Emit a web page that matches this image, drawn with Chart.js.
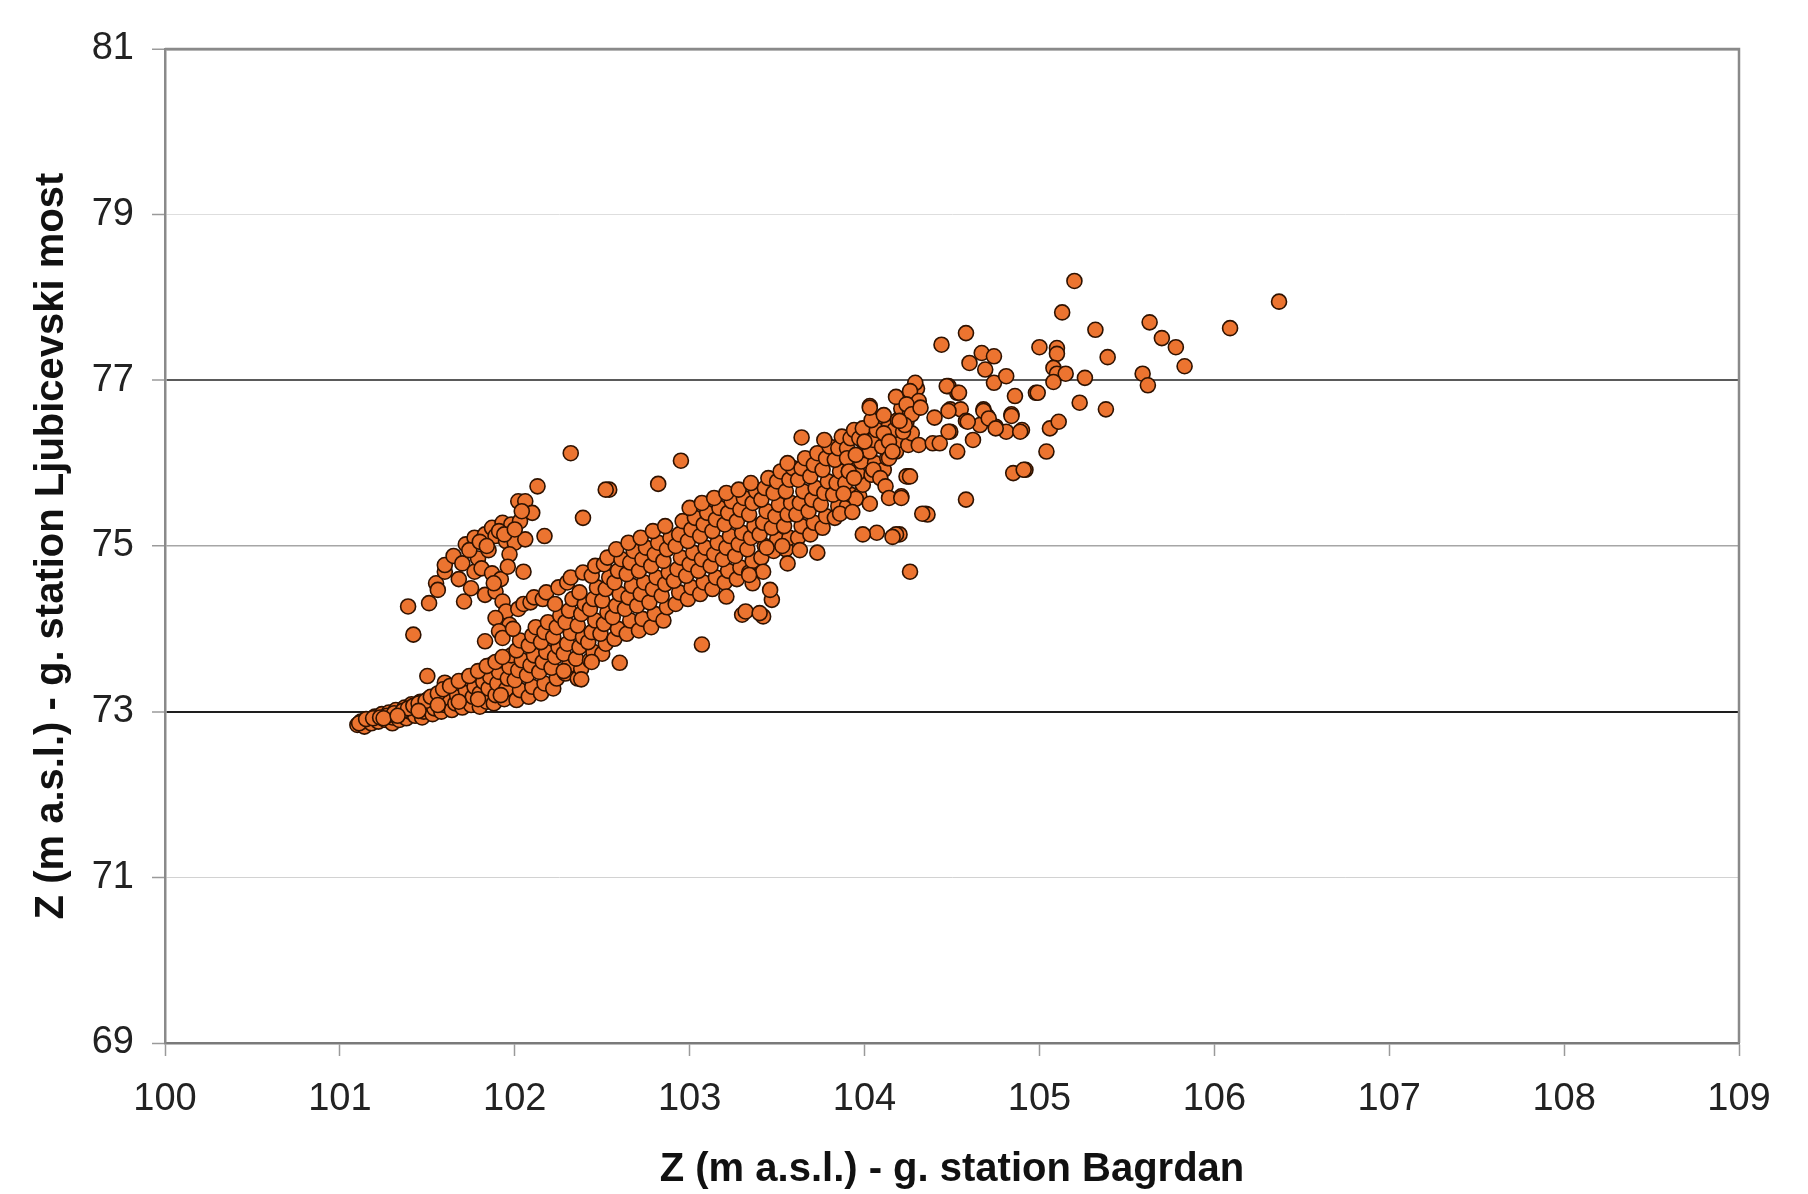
<!DOCTYPE html>
<html>
<head>
<meta charset="utf-8">
<script src="https://cdn.jsdelivr.net/npm/chart.js@4.4.0/dist/chart.umd.min.js"></script>
<style>
  html, body { margin: 0; padding: 0; background: #fff; }
  #wrap { width: 1808px; height: 1194px; }
</style>
</head>
<body>
<div id="wrap"><canvas id="myChart" width="1808" height="1194"></canvas></div>
<script>
// axis ticks
var xTicks = [100, 101, 102, 103, 104, 105, 106, 107, 108, 109];
var yTicks = [69, 71, 73, 75, 77, 79, 81];

// [Z Bagrdan, Z Ljubicevski most], grouped by region
var lowerTail = [
    [101.10,72.84],[101.12,72.88],[101.14,72.82],[101.16,72.90],[101.18,72.86],[101.20,72.94],[101.22,72.88],
    [101.24,72.97],[101.26,72.90],[101.28,72.99],[101.30,72.86],[101.30,72.93],[101.32,73.02],[101.34,72.90],
    [101.35,72.97],[101.37,73.05],[101.38,72.92],[101.40,73.00],[101.41,73.09],[101.43,72.95],[101.44,73.04],
    [101.46,73.12],[101.47,72.93],[101.48,73.00],[101.50,73.08],[101.51,73.16],[101.53,72.97],[101.54,73.04],
    [101.55,73.12],[101.57,73.20],[101.58,73.00],[101.60,73.08],[101.61,73.25],[101.62,73.16],[101.64,73.02],
    [101.65,73.30],[101.66,73.10],[101.67,73.20],[101.69,73.34],[101.70,73.05],[101.71,73.14],[101.72,73.26],
    [101.73,73.40],[101.75,73.08],[101.76,73.18],[101.77,73.30],[101.78,73.45],[101.80,73.06],[101.80,73.22],
    [101.82,73.36],[101.83,73.50],[101.84,73.12],[101.85,73.28],[101.86,73.42],[101.87,73.57],[101.88,73.10],
    [101.89,73.20],[101.90,73.34],[101.91,73.48],[101.92,73.62],[101.94,73.15],[101.95,73.27],[101.96,73.40],
    [101.97,73.54],[101.98,73.68],[101.50,73.43],[101.60,73.35],
    [101.11,72.86],[101.15,72.91],[101.19,72.92],[101.23,72.93],[101.27,72.95],[101.31,72.98],[101.36,73.01],
    [101.39,73.04],[101.42,73.07],[101.45,73.10],[101.49,73.13],[101.52,73.18],[101.56,73.22],[101.59,73.27],
    [101.63,73.31],[101.68,73.37],[101.74,73.43],[101.79,73.49],[101.84,73.55],[101.89,73.60],[101.93,73.66],
    [101.25,72.92],[101.33,72.95],[101.45,73.01],[101.56,73.08],[101.68,73.12],[101.79,73.15],[101.92,73.20]
];

var upperBranch = [
    [101.39,74.27],[101.42,73.93],[101.51,74.31],[101.55,74.55],[101.56,74.47],[101.60,74.69],[101.60,74.77],
    [101.65,74.88],[101.70,74.79],[101.71,74.33],[101.72,75.02],[101.75,74.49],[101.77,75.10],[101.77,74.69],
    [101.79,74.85],[101.81,74.73],[101.83,75.14],[101.83,74.41],[101.87,75.22],[101.87,74.67],[101.89,75.12],
    [101.89,74.45],[101.93,75.28],[101.93,74.33],[101.95,75.06],[101.98,75.26],[102.00,75.04],[102.02,75.54],
    [102.06,75.54],[102.06,75.08],[102.13,75.72],[102.17,75.12],[102.05,74.69],[101.68,74.60],[101.74,74.95],
    [101.80,75.05],[101.91,75.18],[102.03,75.30],[102.10,75.40],[101.95,74.21],[101.89,74.13],[101.97,74.05],
    [101.91,73.97],[101.83,73.85],[101.93,73.89],[101.92,74.60],[101.85,74.95],[101.97,74.90],
    [101.84,75.00],[101.94,75.14],[102.00,75.20],[101.88,74.55],[101.96,74.75],[102.04,75.42]
];

var mainBand = [
    [102.01,73.14],[102.03,73.26],[102.00,73.38],[102.02,73.50],[102.04,73.62],[102.01,73.74],[102.03,73.86],[101.99,74.00],[102.02,74.24],[102.05,74.30],
    [102.08,73.18],[102.10,73.30],[102.07,73.44],[102.09,73.56],[102.11,73.68],[102.08,73.80],[102.10,73.92],[102.12,74.02],[102.09,74.32],[102.11,74.38],
    [102.15,73.22],[102.17,73.34],[102.14,73.48],[102.16,73.60],[102.18,73.72],[102.15,73.84],[102.17,73.96],[102.19,74.08],[102.16,74.36],[102.18,74.44],
    [102.22,73.28],[102.24,73.40],[102.21,73.53],[102.23,73.66],[102.25,73.78],[102.22,73.90],[102.24,74.02],[102.26,74.16],[102.23,74.30],[102.25,74.50],
    [102.29,73.46],[102.31,73.56],[102.28,73.70],[102.30,73.82],[102.32,73.95],[102.29,74.08],[102.31,74.22],[102.33,74.36],[102.30,74.56],[102.32,74.62],
    [102.36,73.40],[102.38,73.52],[102.35,73.64],[102.37,73.78],[102.39,73.90],[102.36,74.04],[102.38,74.18],[102.40,74.30],[102.37,74.44],[102.39,74.68],
    [102.43,73.62],[102.45,73.72],[102.42,73.84],[102.44,73.96],[102.46,74.10],[102.43,74.24],[102.45,74.36],[102.47,74.50],[102.44,74.64],[102.46,74.76],
    [102.50,73.70],[102.52,73.82],[102.49,73.94],[102.51,74.06],[102.53,74.20],[102.50,74.34],[102.52,74.48],[102.54,74.62],[102.51,74.78],[102.53,74.86],
    [102.57,73.88],[102.59,74.00],[102.56,74.14],[102.58,74.28],[102.60,74.42],[102.57,74.56],[102.59,74.70],[102.61,74.84],[102.58,74.96],
    [102.64,73.94],[102.66,74.10],[102.63,74.24],[102.65,74.38],[102.67,74.52],[102.64,74.66],[102.66,74.80],[102.68,74.94],[102.65,75.04],
    [102.71,73.98],[102.73,74.12],[102.70,74.28],[102.72,74.42],[102.74,74.56],[102.71,74.70],[102.73,74.84],[102.75,74.98],[102.72,75.10],
    [102.78,74.02],[102.80,74.18],[102.77,74.32],[102.79,74.48],[102.81,74.62],[102.78,74.76],[102.80,74.90],[102.82,75.04],[102.79,75.18],
    [102.85,74.10],[102.87,74.26],[102.84,74.40],[102.86,74.54],[102.88,74.68],[102.85,74.82],[102.87,74.96],[102.89,75.10],[102.86,75.24],
    [102.92,74.30],[102.94,74.44],[102.91,74.58],[102.93,74.72],[102.95,74.86],[102.92,75.00],[102.94,75.14],[102.96,75.30],
    [102.99,74.36],[103.01,74.50],[102.98,74.64],[103.00,74.78],[103.02,74.92],[102.99,75.06],[103.01,75.20],[103.03,75.34],[103.00,75.46],
    [103.06,74.42],[103.08,74.56],[103.05,74.70],[103.07,74.84],[103.09,74.98],[103.06,75.12],[103.08,75.26],[103.10,75.40],[103.07,75.52],
    [103.13,74.48],[103.15,74.62],[103.12,74.76],[103.14,74.90],[103.16,75.04],[103.13,75.18],[103.15,75.32],[103.17,75.46],[103.14,75.58],
    [103.20,74.56],[103.22,74.70],[103.19,74.84],[103.21,74.98],[103.23,75.12],[103.20,75.26],[103.22,75.40],[103.24,75.54],[103.21,75.64],
    [103.27,74.60],[103.29,74.74],[103.26,74.88],[103.28,75.02],[103.30,75.16],[103.27,75.30],[103.29,75.44],[103.31,75.58],[103.28,75.68],
    [103.34,74.68],[103.36,74.82],[103.33,74.96],[103.35,75.10],[103.37,75.24],[103.34,75.38],[103.36,75.52],[103.38,75.66],[103.35,75.76],
    [103.41,74.86],[103.43,75.00],[103.40,75.14],[103.42,75.28],[103.44,75.42],[103.41,75.56],[103.43,75.70],[103.45,75.82],
    [103.48,74.94],[103.50,75.08],[103.47,75.22],[103.49,75.36],[103.51,75.50],[103.48,75.64],[103.50,75.78],[103.52,75.90],
    [103.55,74.96],[103.57,75.10],[103.54,75.24],[103.56,75.38],[103.58,75.52],[103.55,75.66],[103.57,75.80],[103.59,75.94],[103.56,76.00],
    [103.62,75.10],[103.64,75.24],[103.61,75.38],[103.63,75.52],[103.65,75.66],[103.62,75.80],[103.64,75.94],[103.66,76.06],
    [103.69,75.14],[103.71,75.28],[103.68,75.42],[103.70,75.56],[103.72,75.70],[103.69,75.84],[103.71,75.98],[103.73,76.12],
    [103.76,75.22],[103.78,75.36],[103.75,75.50],[103.77,75.64],[103.79,75.78],[103.76,75.92],[103.78,76.06],[103.80,76.20],[103.77,76.28],
    [103.83,75.34],[103.85,75.48],[103.82,75.62],[103.84,75.76],[103.86,75.90],[103.83,76.04],[103.85,76.18],[103.87,76.32],
    [103.90,75.48],[103.92,75.62],[103.89,75.76],[103.91,75.90],[103.93,76.04],[103.90,76.18],[103.92,76.30],[103.94,76.40],
    [103.97,75.60],[103.99,75.74],[103.96,75.88],[103.98,76.02],[104.00,76.16],[103.97,76.30],[103.99,76.42],
    [104.04,75.86],[104.06,76.00],[104.03,76.14],[104.05,76.28],[104.07,76.40],[104.04,76.52],
    [104.11,75.92],[104.13,76.06],[104.10,76.20],[104.12,76.34],[104.14,76.46],[104.11,76.58],
    [104.18,76.14],[104.20,76.28],[104.17,76.40],[104.19,76.52],[104.21,76.66],[104.18,76.80],
    [104.25,76.22],[104.27,76.36],[104.24,76.50],[104.26,76.62],[104.28,76.78],[104.30,76.90]
];

var upperRight = [
    [104.29,76.97],[104.26,76.87],[104.31,76.75],[104.24,76.71],[104.27,76.59],[104.32,76.67],[104.48,76.93],
    [104.53,76.85],[104.74,76.97],[104.81,77.05],[104.86,76.81],[104.98,76.85],[104.49,76.65],[104.55,76.65],
    [104.40,76.55],[104.58,76.51],[104.68,76.65],[104.70,76.57],[104.66,76.46],[104.75,76.44],[104.81,76.38],
    [104.90,76.40],[104.84,76.59],[104.31,76.22],[104.39,76.24],[104.43,76.24],[104.49,76.38],[104.53,76.14],
    [104.62,76.28],[104.85,75.88],[104.92,75.92],[104.58,75.56],[104.35,75.39],[104.25,75.84],[104.21,75.60],
    [104.20,75.14],[104.07,75.16],[104.18,75.14],[104.26,74.69],[104.58,77.57],[104.44,77.43],[104.67,77.33],
    [104.74,77.29],[104.60,77.21],[104.69,77.13],[105.00,77.40],[105.10,77.39],[105.10,77.32],[105.20,78.20],
    [106.37,77.95],[105.13,77.82],[105.32,77.61],[105.63,77.70],[106.09,77.63],[105.70,77.51],[105.78,77.40],
    [105.83,77.17],[105.39,77.28],[105.08,77.15],[105.10,77.08],[105.15,77.08],[105.08,76.98],[105.26,77.03],
    [105.59,77.08],[105.62,76.94],[104.47,76.93],[104.54,76.85],[104.99,76.85],[105.23,76.73],[105.38,76.65],
    [104.48,76.63],[104.59,76.50],[104.68,76.63],[104.71,76.54],[104.75,76.42],[104.84,76.57],[104.89,76.38],
    [104.48,76.38],[105.06,76.42],[105.11,76.50],[105.04,76.14],[104.91,75.92],[104.36,75.38],[104.16,75.11],
    [103.99,75.14],[104.03,76.69],[104.00,76.26],[104.11,76.36],[104.14,76.26],[104.22,76.38],[104.23,76.46],
    [104.20,76.51],[104.14,76.06],[104.16,76.14],[103.90,76.06],[103.95,76.10],[103.91,75.90],[103.94,75.82],
    [104.05,75.92],[104.09,75.82],[104.12,75.72],[104.14,75.58],[104.21,75.58],[104.24,75.84],[104.26,75.84],
    [103.95,75.57],[104.03,75.51],[103.88,75.63],[103.86,75.39],[103.93,75.41],[104.33,75.39]
];

var outliers = [
    [103.07,73.81],[102.60,73.59],[103.30,74.17],[103.42,74.15],[103.47,74.35],[103.46,74.47],[103.21,74.39],
    [103.36,74.55],[103.42,74.69],[103.34,74.65],[103.56,74.79],[103.73,74.92],[103.63,74.95],[103.53,75.00],
    [103.44,74.98],[103.32,74.21],[103.40,74.19],[102.44,73.60],[102.38,73.39],[102.28,73.49],
    [102.95,76.03],[102.82,75.75],[102.54,75.68],[103.64,76.31],[104.03,76.67],[102.32,76.12],[102.39,75.34],
    [102.52,75.68]
];

var allPoints = lowerTail.concat(upperBranch, mainBand, upperRight, outliers).map(function (p) {
    return { x: p[0], y: p[1] };
});

// gridline look per y value (the scanned chart has uneven lines)
var gridColors = { 69: 'rgba(0,0,0,0)', 71: '#d2d2d2', 73: '#1e1e1e', 75: '#a6a6a6', 77: '#5a5a5a', 79: '#dedede', 81: '#8a8a8a' };
var gridWidths = { 69: 1, 71: 1, 73: 2, 75: 1.5, 77: 2, 79: 1, 81: 2.5 };

//frame on the right side of the plot
var plotFrame = {
    id: 'plotFrame',
    beforeDatasetsDraw: function (chart) {
        var a = chart.chartArea, c = chart.ctx;
        c.save();
        c.strokeStyle = '#8a8a8a';
        c.lineWidth = 2.5;
        c.beginPath();
        c.moveTo(a.left, a.top);
        c.lineTo(a.right, a.top);
        c.lineTo(a.right, a.bottom);
        c.stroke();
        c.restore();
    }
};

var fontFamily = '"Liberation Sans", Arial, sans-serif';

var ctx = document.getElementById('myChart').getContext('2d');
var myChart = new Chart(ctx, {
    type: 'scatter',
    data: {
        datasets: [{
            label: 'Z',
            data: allPoints,
            pointRadius: 7.5,
            pointBorderWidth: 1.6,
            backgroundColor: '#ec7430',
            borderColor: '#2e1200'
        }]
    },
    options: {
        responsive: false,
        devicePixelRatio: 1,
        animation: false,
        layout: { padding: { top: 49, right: 69, left: 0, bottom: 0 } },
        plugins: {
            legend: { display: false },
            tooltip: { enabled: false }
        },
        scales: {
            x: {
                type: 'linear',
                min: xTicks[0],
                max: xTicks[xTicks.length - 1],
                afterBuildTicks: function (scale) {
                    scale.ticks = xTicks.map(function (v) { return { value: v }; });
                },
                afterFit: function (scale) { scale.height = 151; },
                grid: {
                    drawOnChartArea: false,
                    drawTicks: true,
                    tickLength: 13,
                    tickColor: '#9a9a9a',
                    tickWidth: 1.5
                },
                border: { display: true, color: '#7a7a7a', width: 2.5 },
                ticks: {
                    padding: 21,
                    maxRotation: 0,
                    autoSkip: false,
                    color: '#222',
                    font: { family: fontFamily, size: 38 }
                },
                title: {
                    display: true,
                    text: 'Z (m a.s.l.) - g. station Bagrdan',
                    color: '#111',
                    padding: { top: 0, bottom: 0 },
                    font: { family: fontFamily, size: 40, weight: 'bold' }
                }
            },
            y: {
                type: 'linear',
                min: yTicks[0],
                max: yTicks[yTicks.length - 1],
                afterBuildTicks: function (scale) {
                    scale.ticks = yTicks.map(function (v) { return { value: v }; });
                },
                afterFit: function (scale) { scale.width = 165; },
                grid: {
                    drawTicks: true,
                    tickLength: 13,
                    tickColor: '#9a9a9a',
                    tickWidth: 1.5,
                    color: function (c) { return c.tick ? gridColors[c.tick.value] : 'rgba(0,0,0,0)'; },
                    lineWidth: function (c) { return c.tick ? gridWidths[c.tick.value] : 1; }
                },
                border: { display: true, color: '#8a8a8a', width: 2.5 },
                ticks: {
                    padding: 18,
                    autoSkip: false,
                    color: '#222',
                    font: { family: fontFamily, size: 38 }
                },
                title: {
                    display: true,
                    text: 'Z (m a.s.l.) - g. station Ljubicevski most',
                    color: '#111',
                    padding: { top: 28, bottom: 0 },
                    font: { family: fontFamily, size: 40, weight: 'bold' }
                }
            }
        }
    },
    plugins: [plotFrame]
});
</script>
</body>
</html>
